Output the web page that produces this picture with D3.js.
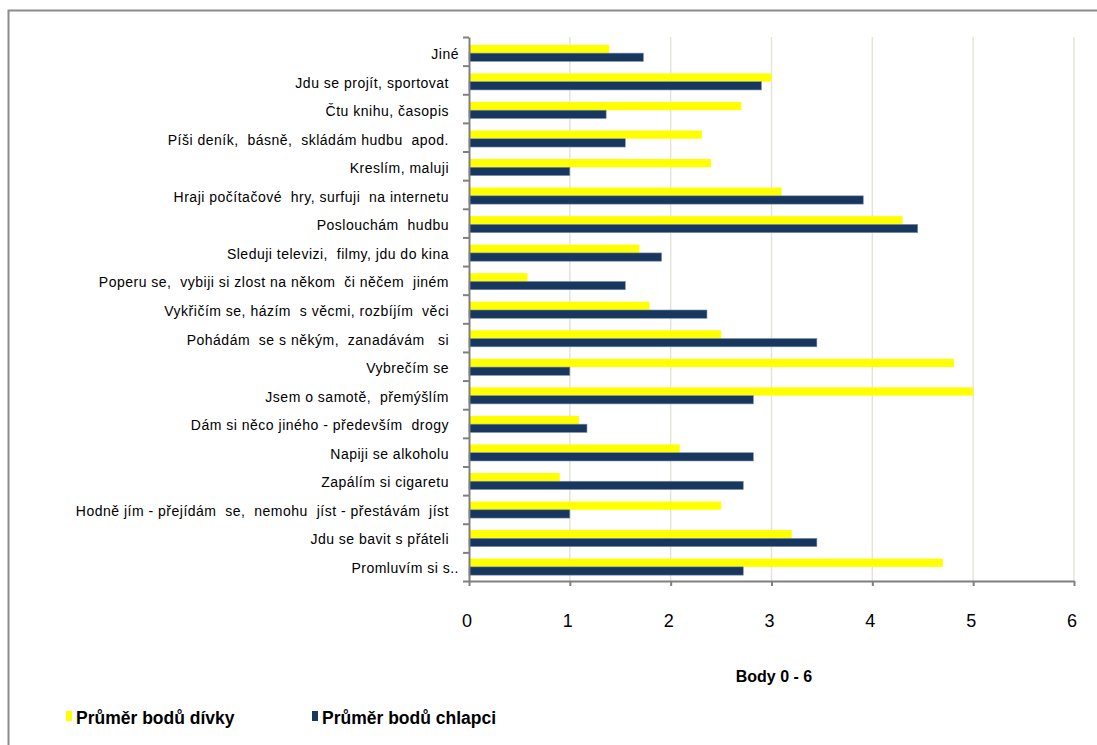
<!DOCTYPE html>
<html>
<head>
<meta charset="utf-8">
<script src="https://cdn.jsdelivr.net/npm/d3@7"></script>
<style>
  html, body { margin: 0; padding: 0; background: #fff; }
  svg { display: block; }
  .cat { font-family: "Liberation Sans", Arial, sans-serif; font-size: 14px; letter-spacing: 0.5px; fill: #000; white-space: pre; }
  .xt { font-family: "Liberation Sans", Arial, sans-serif; font-size: 18px; fill: #000; }
  .ttl { font-family: "Liberation Sans", Arial, sans-serif; font-size: 16px; font-weight: bold; fill: #000; }
  .leg { font-family: "Liberation Sans", Arial, sans-serif; font-size: 17.5px; font-weight: bold; fill: #000; }
</style>
</head>
<body>
<svg id="chart" width="1097" height="745"></svg>
<script>
// Activities, listed top to bottom
const categories = [
  "Jiné",
  "Jdu se projít, sportovat",
  "Čtu knihu, časopis",
  "Píši deník,  básně,  skládám hudbu  apod.",
  "Kreslím, maluji",
  "Hraji počítačové  hry, surfuji  na internetu",
  "Poslouchám  hudbu",
  "Sleduji televizi,  filmy, jdu do kina",
  "Poperu se,  vybiji si zlost na někom  či něčem  jiném",
  "Vykřičím se, házím  s věcmi, rozbíjím  věci",
  "Pohádám  se s někým,  zanadávám   si",
  "Vybrečím se",
  "Jsem o samotě,  přemýšlím",
  "Dám si něco jiného - především  drogy",
  "Napiji se alkoholu",
  "Zapálím si cigaretu",
  "Hodně jím - přejídám  se,  nemohu  jíst - přestávám  jíst",
  "Jdu se bavit s přáteli",
  "Promluvím si s.."
];
// Labels that carry trailing space before the axis
const trailingGap = [false, true, true, true, true, true, true, true, true, true, true, true, true, true, true, true, true, true, false];

// Average points, girls and boys
const girls = [1.39, 3.00, 2.70, 2.31, 2.40, 3.10, 4.30, 1.69, 0.58, 1.79, 2.50, 4.81, 5.00, 1.09, 2.09, 0.90, 2.50, 3.20, 4.70];
const boys  = [1.73, 2.90, 1.36, 1.55, 1.00, 3.91, 4.45, 1.91, 1.55, 2.36, 3.45, 1.00, 2.82, 1.17, 2.82, 2.72, 1.00, 3.45, 2.72];

const seriesNames = ["Průměr bodů dívky", "Průměr bodů chlapci"];
const seriesColors = ["#FFFF00", "#17375E"];
const xTicks = [0, 1, 2, 3, 4, 5, 6];
const axisTitle = "Body 0 - 6";

const svg = d3.select("#chart");

// outer frame
svg.append("rect")
  .attr("x", 8.5).attr("y", 10.5)
  .attr("width", 1200).attr("height", 1000)
  .attr("fill", "none").attr("stroke", "#8c8c8c").attr("stroke-width", 2);

const plotLeft = 469, plotRight = 1074, plotTop = 37, plotBottom = 581;

const x = d3.scaleLinear().domain([0, 6]).range([plotLeft, plotRight]);
const y = d3.scaleBand().domain(categories).range([plotTop, plotBottom])
  .paddingInner(0.42).paddingOuter(0.24);
const sub = d3.scaleBand().domain([0, 1]).range([0, y.bandwidth()]);

// vertical gridlines
svg.append("g").selectAll("line")
  .data(xTicks.filter(d => d > 0))
  .join("line")
  .attr("x1", d => x(d)).attr("x2", d => x(d))
  .attr("y1", plotTop).attr("y2", plotBottom)
  .attr("stroke", "#e6e4da").attr("stroke-width", 1.5);

// bars
const rows = categories.map((c, i) => ({ c, vals: [girls[i], boys[i]] }));
const groups = svg.append("g").selectAll("g")
  .data(rows).join("g")
  .attr("transform", d => `translate(0,${y(d.c) + 1})`);
groups.selectAll("rect")
  .data(d => d.vals.map((v, k) => ({ v, k })))
  .join("rect")
  .attr("x", x(0))
  .attr("y", d => sub(d.k))
  .attr("width", d => x(d.v) - x(0))
  .attr("height", sub.bandwidth())
  .attr("fill", d => seriesColors[d.k])
  .attr("stroke", d => d.k === 1 ? "#7f8fa6" : "none")
  .attr("stroke-width", 0.6);

// category axis: ticks sit between categories
const yEdge = d3.scaleLinear().domain([0, categories.length]).range([plotTop, plotBottom]);
const yAxis = svg.append("g")
  .attr("transform", `translate(${plotLeft},0)`)
  .call(d3.axisLeft(yEdge).tickValues(d3.range(0, categories.length + 1)).tickFormat("").tickSize(6).tickSizeOuter(0));
yAxis.selectAll("path, line").attr("stroke", "#808080").attr("stroke-width", 2);

// value axis
const xAxis = svg.append("g")
  .attr("transform", `translate(0,${plotBottom})`)
  .call(d3.axisBottom(x).tickValues(xTicks).tickFormat("").tickSize(5).tickSizeOuter(0));
xAxis.selectAll("path, line").attr("stroke", "#808080").attr("stroke-width", 2);

// tick labels
svg.append("g").selectAll("text")
  .data(xTicks).join("text")
  .attr("class", "xt")
  .attr("x", d => x(d) - 2)
  .attr("y", 627)
  .attr("text-anchor", "middle")
  .text(d => d);

// category labels
svg.append("g").selectAll("text")
  .data(categories).join("text")
  .attr("class", "cat")
  .attr("x", (d, i) => trailingGap[i] ? 449 : 459)
  .attr("y", d => y(d) + y.bandwidth() / 2 + 7)
  .attr("text-anchor", "end")
  .text(d => d);

// axis title
svg.append("text")
  .attr("class", "ttl")
  .attr("x", 774).attr("y", 682)
  .attr("text-anchor", "middle")
  .text(axisTitle);

// legend
const legendX = [66, 312];
const leg = svg.append("g").selectAll("g")
  .data(seriesNames).join("g")
  .attr("transform", (d, i) => `translate(${legendX[i]},0)`);
leg.append("rect")
  .attr("x", 0).attr("y", 711).attr("width", 6).attr("height", 10)
  .attr("fill", (d, i) => seriesColors[i]);
leg.append("text")
  .attr("class", "leg")
  .attr("x", 10).attr("y", 724)
  .text(d => d);
</script>
</body>
</html>
